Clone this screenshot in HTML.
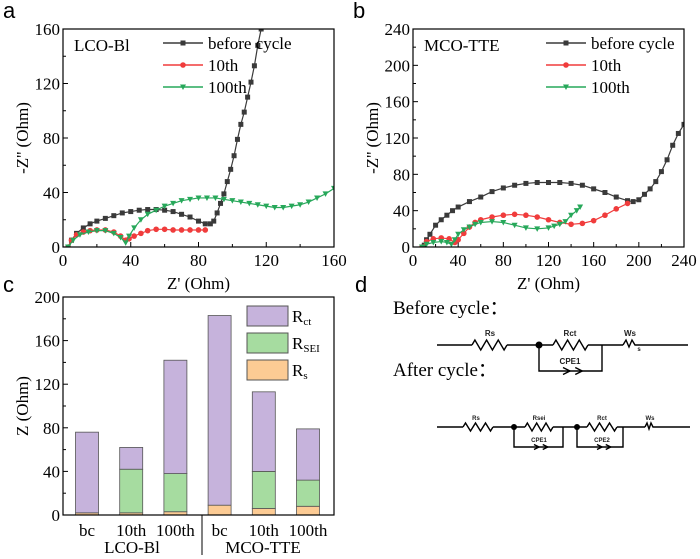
<!DOCTYPE html>
<html><head><meta charset="utf-8"><style>
html,body{margin:0;padding:0;background:#fff;}
svg{display:block;font-family:"Liberation Serif",serif;}
</style></head><body>
<svg id="fig" width="700" height="559" viewBox="0 0 700 559" xmlns="http://www.w3.org/2000/svg"></svg>
<script>
// ---- Panel a data ----
const aBeforeX=[3,5,8,12,16,20,25,30,35,40,45,50,55,60,65,70,75,80,84,87,89,91,93,95,97,99,101,103,105,107,109,111,113,115,117];
const aBeforeY=[0,5,10,14,17,19,21,23,25,26,27,27.5,27.5,27,26,24,22,19,17,17,19,25,32,39,48,57,67,79,90,99,110,121,133,148,160];
const a10X=[3,5,8,12,16,20,25,30,34,37,39,42,46,50,55,60,65,70,75,80,84];
const a10Y=[0,5,9,11,12,12.5,12.5,11,8,5,6,8,10,12,13,13,12.5,12.5,12.5,12.5,12.5];
const a100X=[3,6,10,15,20,25,30,34,37,39,42,46,50,55,60,65,70,75,80,85,90,95,100,105,110,115,120,125,130,135,140,145,150,155,160];
const a100Y=[0,5,9,11,12,12,10,7,3,8,14,20,24,27,30,32,34,35,36,36,36,35,34,33,32,31,30,29,29,30,31,33,36,39,43];
const aTicks=[0,40,80,120,160];
// ---- Panel b data ----
const bBeforeX=[10,12,15,20,25,30,35,40,50,60,70,80,90,100,110,120,130,140,150,160,170,180,190,195,200,205,210,215,220,225,230,235,240];
const bBeforeY=[2,8,14,24,30,35,40,44,50,55,61,65,68,70,71,71,71,70,68,64,60,55,51,50,52,58,64,72,83,96,112,125,135];
const b10X=[8,12,18,25,32,37,40,45,50,55,60,70,80,90,100,110,120,130,140,150,160,170,180,190];
const b10Y=[0,6,9,10,9,5,8,15,22,27,30,33,35,36,35,33,30,27,25,26,29,35,42,48];
const b100X=[8,12,18,25,30,34,37,40,45,50,55,60,70,80,90,100,110,120,125,130,135,140,145,148];
const b100Y=[0,3,5,6,5,3,8,14,19,22,25,27,28,27,24,21,20,21,23,25,28,35,40,44];
const bTicks=[0,40,80,120,160,200,240];
// ---- Panel c data ----
const cCats=["bc","10th","100th","bc","10th","100th"];
const cRs=[2,2,3,9,6,8];
const cSei=[0,40,35,0,34,24];
const cRct=[74,20,104,174,73,47];
const cTicks=[0,40,80,120,160,200];

const NS="http://www.w3.org/2000/svg";
const svg=document.getElementById('fig');
function el(tag,attrs,parent,text){const e=document.createElementNS(NS,tag);for(const k in attrs)e.setAttribute(k,attrs[k]);if(text!==undefined)e.textContent=text;(parent||svg).appendChild(e);return e;}

function marker(g,type,x,y,c){
  let m;
  if(type==='sq') m=el('rect',{x:x-2.5,y:y-2.5,width:5,height:5,fill:c},g);
  else if(type==='ci') m=el('circle',{cx:x,cy:y,r:2.8,fill:c},g);
  else m=el('polygon',{points:`${x-3},${y-2.5} ${x+3},${y-2.5} ${x},${y+3}`,fill:c},g);
  
  
}

function nyquist(id,L,R,T,B,xmax,ymax,ticks,yticks,series,label,letter,lx){
  const g=el('g',{},svg);
  
  
  const sx=v=>L+(v/xmax)*(R-L), sy=v=>B-(v/ymax)*(B-T);
  const clip=el('clipPath',{id:id+'-clip'},g);el('rect',{x:L,y:T,width:R-L,height:B-T},clip);
  // ticks
  const step=ticks[1]-ticks[0];
  ticks.forEach((t,i)=>{el('line',{x1:sx(t),x2:sx(t),y1:B,y2:B-5,stroke:'#000'},g);
    const tl=el('text',{x:sx(t),y:B+19,'text-anchor':'middle','font-size':17},g,t);
    
    if(i<ticks.length-1){el('line',{x1:sx(t+step/2),x2:sx(t+step/2),y1:B,y2:B-3,stroke:'#000'},g);}});
  const ys=yticks[1]-yticks[0];
  yticks.forEach((t,i)=>{el('line',{x1:L,x2:L+5,y1:sy(t),y2:sy(t),stroke:'#000'},g);
    const tl=el('text',{x:L-3,y:sy(t)+6,'text-anchor':'end','font-size':17},g,t);
    
    if(i<yticks.length-1)el('line',{x1:L,x2:L+3,y1:sy(t+ys/2),y2:sy(t+ys/2),stroke:'#000'},g);});
  const sg=el('g',{'clip-path':`url(#${id}-clip)`},g);
  series.forEach(s=>{
    const pts=s.x.map((v,i)=>sx(v)+','+sy(s.y[i])).join(' ');
    const pl=el('polyline',{points:pts,fill:'none',stroke:s.c,'stroke-width':1.2},sg);
    
    s.x.forEach((v,i)=>marker(sg,s.m,sx(v),sy(s.y[i]),s.c));
  });
  el('rect',{x:L,y:T,width:R-L,height:B-T,fill:'none',stroke:'#000','stroke-width':1.2},g);
  const lb=el('text',{x:L+11,y:T+22,'font-size':17},g,label);
  // legend
  const names=['before cycle','10th','100th'];
  series.forEach((s,i)=>{const y=T+14+i*22;
    const le=el('g',{},g);
    el('line',{x1:lx,x2:lx+40,y1:y,y2:y,stroke:s.c,'stroke-width':1.5},le);marker(le,s.m,lx+20,y,s.c);
    el('text',{x:lx+45,y:y+6,'font-size':17},le,names[i]);});
  const xt=el('text',{x:(L+R)/2,y:B+42,'text-anchor':'middle','font-size':17},g,"Z' (Ohm)");
  
  const yt=el('text',{x:0,y:0,'text-anchor':'middle','font-size':17,transform:`translate(${L-35},${(T+B)/2}) rotate(-90)`},g,"-Z'' (Ohm)");
  
  const pl=el('text',{x:letter[0],y:letter[1],'font-size':22,'font-family':'Liberation Sans, sans-serif'},g,letter[2]);
  
}
const BLK='#3a3a3a',RED='#f03c3c',GRN='#27a85a';
nyquist('panel-a',63,334,29,247,160,160,aTicks,aTicks,[
 {x:aBeforeX,y:aBeforeY,c:BLK,m:'sq',n:'before'},{x:a10X,y:a10Y,c:RED,m:'ci',n:'10th'},{x:a100X,y:a100Y,c:GRN,m:'tr',n:'100th'}],
 'LCO-Bl',[3,18,'a'],163);
nyquist('panel-b',413,684,29,247,240,240,bTicks,bTicks,[
 {x:bBeforeX,y:bBeforeY,c:BLK,m:'sq',n:'before'},{x:b10X,y:b10Y,c:RED,m:'ci',n:'10th'},{x:b100X,y:b100Y,c:GRN,m:'tr',n:'100th'}],
 'MCO-TTE',[353,18,'b'],546);

// ---- Panel c ----
(function(){
  const g=el('g',{},svg);
  
  
  const L=63,R=334,T=297,B=515,ymax=200;
  const sy=v=>B-(v/ymax)*(B-T);
  const cx=i=>87+i*44.2, w=23;
  cTicks.forEach((t,i)=>{el('line',{x1:L,x2:L+5,y1:sy(t),y2:sy(t),stroke:'#000'},g);
    const tl=el('text',{x:L-3,y:sy(t)+6,'text-anchor':'end','font-size':17},g,t);
    
    if(i<cTicks.length-1)el('line',{x1:L,x2:L+3,y1:sy(t+20),y2:sy(t+20),stroke:'#000'},g);});
  const cols={rs:'#fccb94',sei:'#a6dca0',rct:'#c6b3dc'};
  cCats.forEach((c,i)=>{
    let base=0;
    [['rs',cRs[i]],['sei',cSei[i]],['rct',cRct[i]]].forEach(([k,v])=>{
      if(v<=0)return;
      const r=el('rect',{x:cx(i)-w/2,y:sy(base+v),width:w,height:sy(base)-sy(base+v),fill:cols[k],stroke:'#555','stroke-width':0.8},g);
      
      base+=v;});
    const tl=el('text',{x:cx(i),y:B+21,'text-anchor':'middle','font-size':17},g,c);
    
  });
  el('rect',{x:L,y:T,width:R-L,height:B-T,fill:'none',stroke:'#000','stroke-width':1.2},g);
  el('line',{x1:202,x2:202,y1:B,y2:555,stroke:'#000'},g);
  const g1=el('text',{x:132,y:553,'text-anchor':'middle','font-size':17},g,'LCO-Bl');
  const g2=el('text',{x:263,y:553,'text-anchor':'middle','font-size':17},g,'MCO-TTE');
  const leg=[['rct','R','ct',306],['sei','R','SEI',333],['rs','R','s',360]];
  leg.forEach(([k,a,s,y])=>{const le=el('g',{},g);
    el('rect',{x:247,y:y,width:41,height:20,fill:cols[k],stroke:'#555'},le);
    const t=el('text',{x:292,y:y+16,'font-size':17},le,a);el('tspan',{'font-size':11,dy:3},t,s);});
  const yt=el('text',{x:0,y:0,'text-anchor':'middle','font-size':17,transform:`translate(28,${(T+B)/2}) rotate(-90)`},g,'Z (Ohm)');
  
  const pl=el('text',{x:3,y:292,'font-size':22,'font-family':'Liberation Sans, sans-serif'},g,'c');
})();

// ---- Panel d ----
(function(){
  const g=el('g',{},svg);
  
  
  const pl=el('text',{x:355,y:292,'font-size':22,'font-family':'Liberation Sans, sans-serif'},g,'d');
  const t1=el('text',{x:393,y:314,'font-size':19},g,'Before cycle：');
  const t2=el('text',{x:393,y:376,'font-size':19},g,'After cycle：');
  const S={stroke:'#000','stroke-width':1.4,fill:'none'};
  function zig(x1,x2,y,amp){const n=6,d=(x2-x1)/n;let p=`M${x1},${y}`;for(let i=0;i<n;i++){p+=` L${x1+d*(i+0.5)},${y+(i%2?amp:-amp)}`;}p+=` L${x2},${y}`;return p;}
  function lab(x,y,t,fs){el('text',{x:x,y:y,'font-size':fs,'font-weight':'bold','font-family':'Liberation Sans, sans-serif','text-anchor':'middle',fill:'#222'},g,t);}
  function cpe(x,y,s){el('path',Object.assign({d:`M${x-s*2},${y-s} L${x},${y} L${x-s*2},${y+s} M${x+s*1.5},${y-s} L${x+s*3.5},${y} L${x+s*1.5},${y+s}`},S),g);}
  // circuit 1
  let y=345;
  const c1=el('g',{},g);
  el('path',Object.assign({d:`M437,${y} L472,${y} ${zig(472,507,y,5).slice(1).replace(/^/,'M')} M507,${y} L553,${y} ${'M'+zig(553,588,y,5).slice(1)} M588,${y} L623,${y} M637,${y} L688,${y} M539,${y} L539,371 L602,371 L602,${y}`},S),c1);
  el('path',Object.assign({d:`M623,${y} L626,${y-5} L629,${y+2} L632,${y-5} L635,${y} L637,${y}`},S),c1);
  el('circle',{cx:539,cy:y,r:3.5,fill:'#000'},c1);
  cpe(570,371,3.5);
  lab(490,336,'Rs',8);lab(570,336,'Rct',8);lab(630,336,'Ws',8);lab(570,364,'CPE1',8);lab(639,351,'s',6);
  // circuit 2
  y=427;
  const c2=el('g',{},g);
  el('path',Object.assign({d:`M437,${y} L463,${y} M${zig(463,493,y,4).slice(1)} M493,${y} L525,${y} M${zig(525,553,y,4).slice(1)} M553,${y} L587,${y} M${zig(587,617,y,4).slice(1)} M617,${y} L645,${y} M655,${y} L690,${y} M514,${y} L514,447 L563,447 L563,${y} M577,${y} L577,447 L623,447 L623,${y}`},S),c2);
  el('path',Object.assign({d:`M645,${y} L647,${y-4} L649,${y+2} L651,${y-4} L653,${y} L655,${y}`},S),c2);
  el('circle',{cx:514,cy:y,r:3,fill:'#000'},c2);el('circle',{cx:577,cy:y,r:3,fill:'#000'},c2);
  cpe(539,447,2.5);cpe(602,447,2.5);
  lab(476,420,'Rs',6);lab(539,420,'Rsei',6);lab(602,420,'Rct',6);lab(650,420,'Ws',6);lab(539,442,'CPE1',6);lab(602,442,'CPE2',6);
})();
</script>
</body></html>
